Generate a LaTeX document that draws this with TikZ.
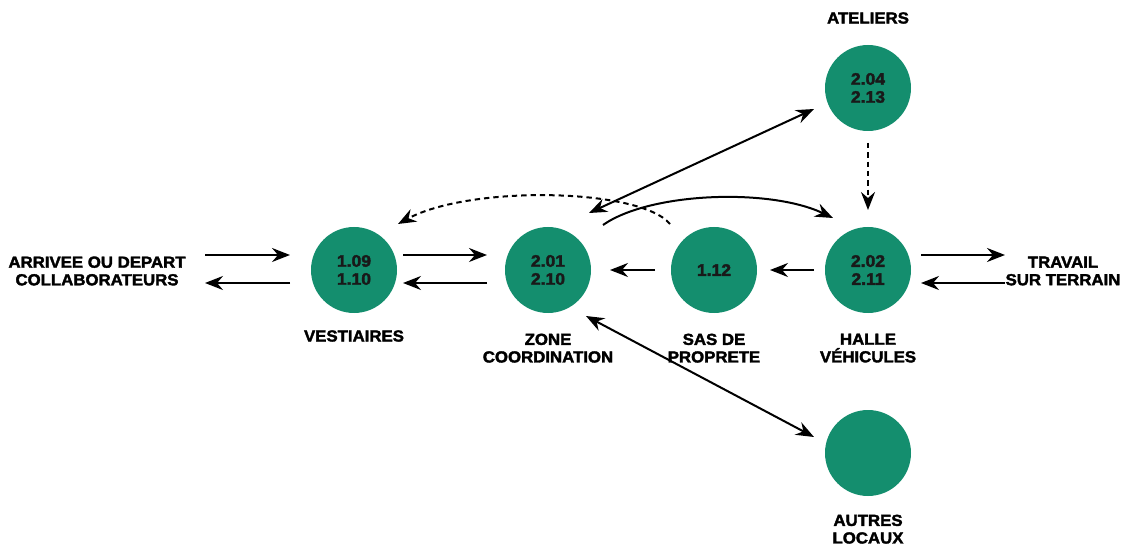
\documentclass[tikz,border=0pt]{standalone}
\usepackage{fontspec}
\setmainfont{Liberation Sans}[BoldFeatures={FakeBold=2.2,FakeStretch=1.05}]
\usetikzlibrary{arrows.meta}
\definecolor{roomgreen}{RGB}{20,142,110}
\tikzset{
  room/.style={circle,fill=roomgreen,minimum size={86*0.75pt},inner sep=0pt,align=center,
    font=\fontsize{12.5}{13.5}\selectfont\bfseries,text=black!90},
  lbl/.style={align=center,font=\fontsize{12}{13.2}\selectfont\bfseries,text=black},
  flow/.style={line width=1.5pt,-{Stealth[length=13.5pt,width=10.5pt,inset=4.5pt]}},
  flow2/.style={line width=1.5pt,{Stealth[length=13.5pt,width=10.5pt,inset=4.5pt]}-{Stealth[length=13.5pt,width=10.5pt,inset=4.5pt]}},
  dflow/.style={flow,dash pattern=on 4pt off 3pt}
}
\begin{document}
\begin{tikzpicture}[x=0.75pt,y=-0.75pt]
\useasboundingbox (0,0) rectangle (1142,545);
% rooms
\node[room] (vest) at (354,270) {1.09\\1.10};
\node[room] (zone) at (548,270) {2.01\\2.10};
\node[room] (sas)  at (714,270) {1.12};
\node[room] (halle) at (868,270) {2.02\\2.11};
\node[room] (atel) at (868,88) {2.04\\2.13};
\node[room] (autres) at (868,453) {};
% labels
\node[lbl] (latel) at (868,18) {ATELIERS};
\node[lbl] (lvest) at (354,336) {VESTIAIRES};
\node[lbl,anchor=north] (lzone) at (548,329) {ZONE\\COORDINATION};
\node[lbl,anchor=north] (lsas) at (714,329) {SAS DE\\PROPRETE};
\node[lbl,anchor=north] (lhalle) at (868,329) {HALLE\\VÉHICULES};
\node[lbl,anchor=north] (lautres) at (868,510) {AUTRES\\LOCAUX};
\node[lbl] (arr) at (97,271) {ARRIVEE OU DEPART\\COLLABORATEURS};
\node[lbl] (trav) at (1063,271) {TRAVAIL\\SUR TERRAIN};
% endpoints
\coordinate (a1) at (205,255); \coordinate (a2) at (290,255);
\coordinate (a3) at (290,283); \coordinate (a4) at (205,283);
\coordinate (b1) at (403,255); \coordinate (b2) at (487,255);
\coordinate (b3) at (487,283); \coordinate (b4) at (403,283);
\coordinate (c1) at (655,270); \coordinate (c2) at (610,270);
\coordinate (d1) at (814,270); \coordinate (d2) at (770,270);
\coordinate (e1) at (921,255); \coordinate (e2) at (1005,255);
\coordinate (e3) at (1005,283); \coordinate (e4) at (921,283);
\coordinate (f1) at (589,213); \coordinate (f2) at (814,109);
\coordinate (g1) at (586,316); \coordinate (g2) at (814,437);
\coordinate (h1) at (868,143); \coordinate (h2) at (868,210);
\coordinate (k1) at (603,225); \coordinate (k2) at (833,218);
\coordinate (m1) at (670,224); \coordinate (m2) at (398,224);
% connectors
\draw[flow] (a1) -- (a2);
\draw[flow] (a3) -- (a4);
\draw[flow] (b1) -- (b2);
\draw[flow] (b3) -- (b4);
\draw[flow] (c1) -- (c2);
\draw[flow] (d1) -- (d2);
\draw[flow] (e1) -- (e2);
\draw[flow] (e3) -- (e4);
\draw[flow2] (f1) -- (f2);
\draw[flow2] (g1) -- (g2);
\draw[dflow] (h1) -- (h2);
\draw[flow] (k1) .. controls (650,192) and (770,188) .. (k2);
\draw[dflow] (m1) .. controls (640,188) and (470,185) .. (m2);
\end{tikzpicture}
\end{document}
